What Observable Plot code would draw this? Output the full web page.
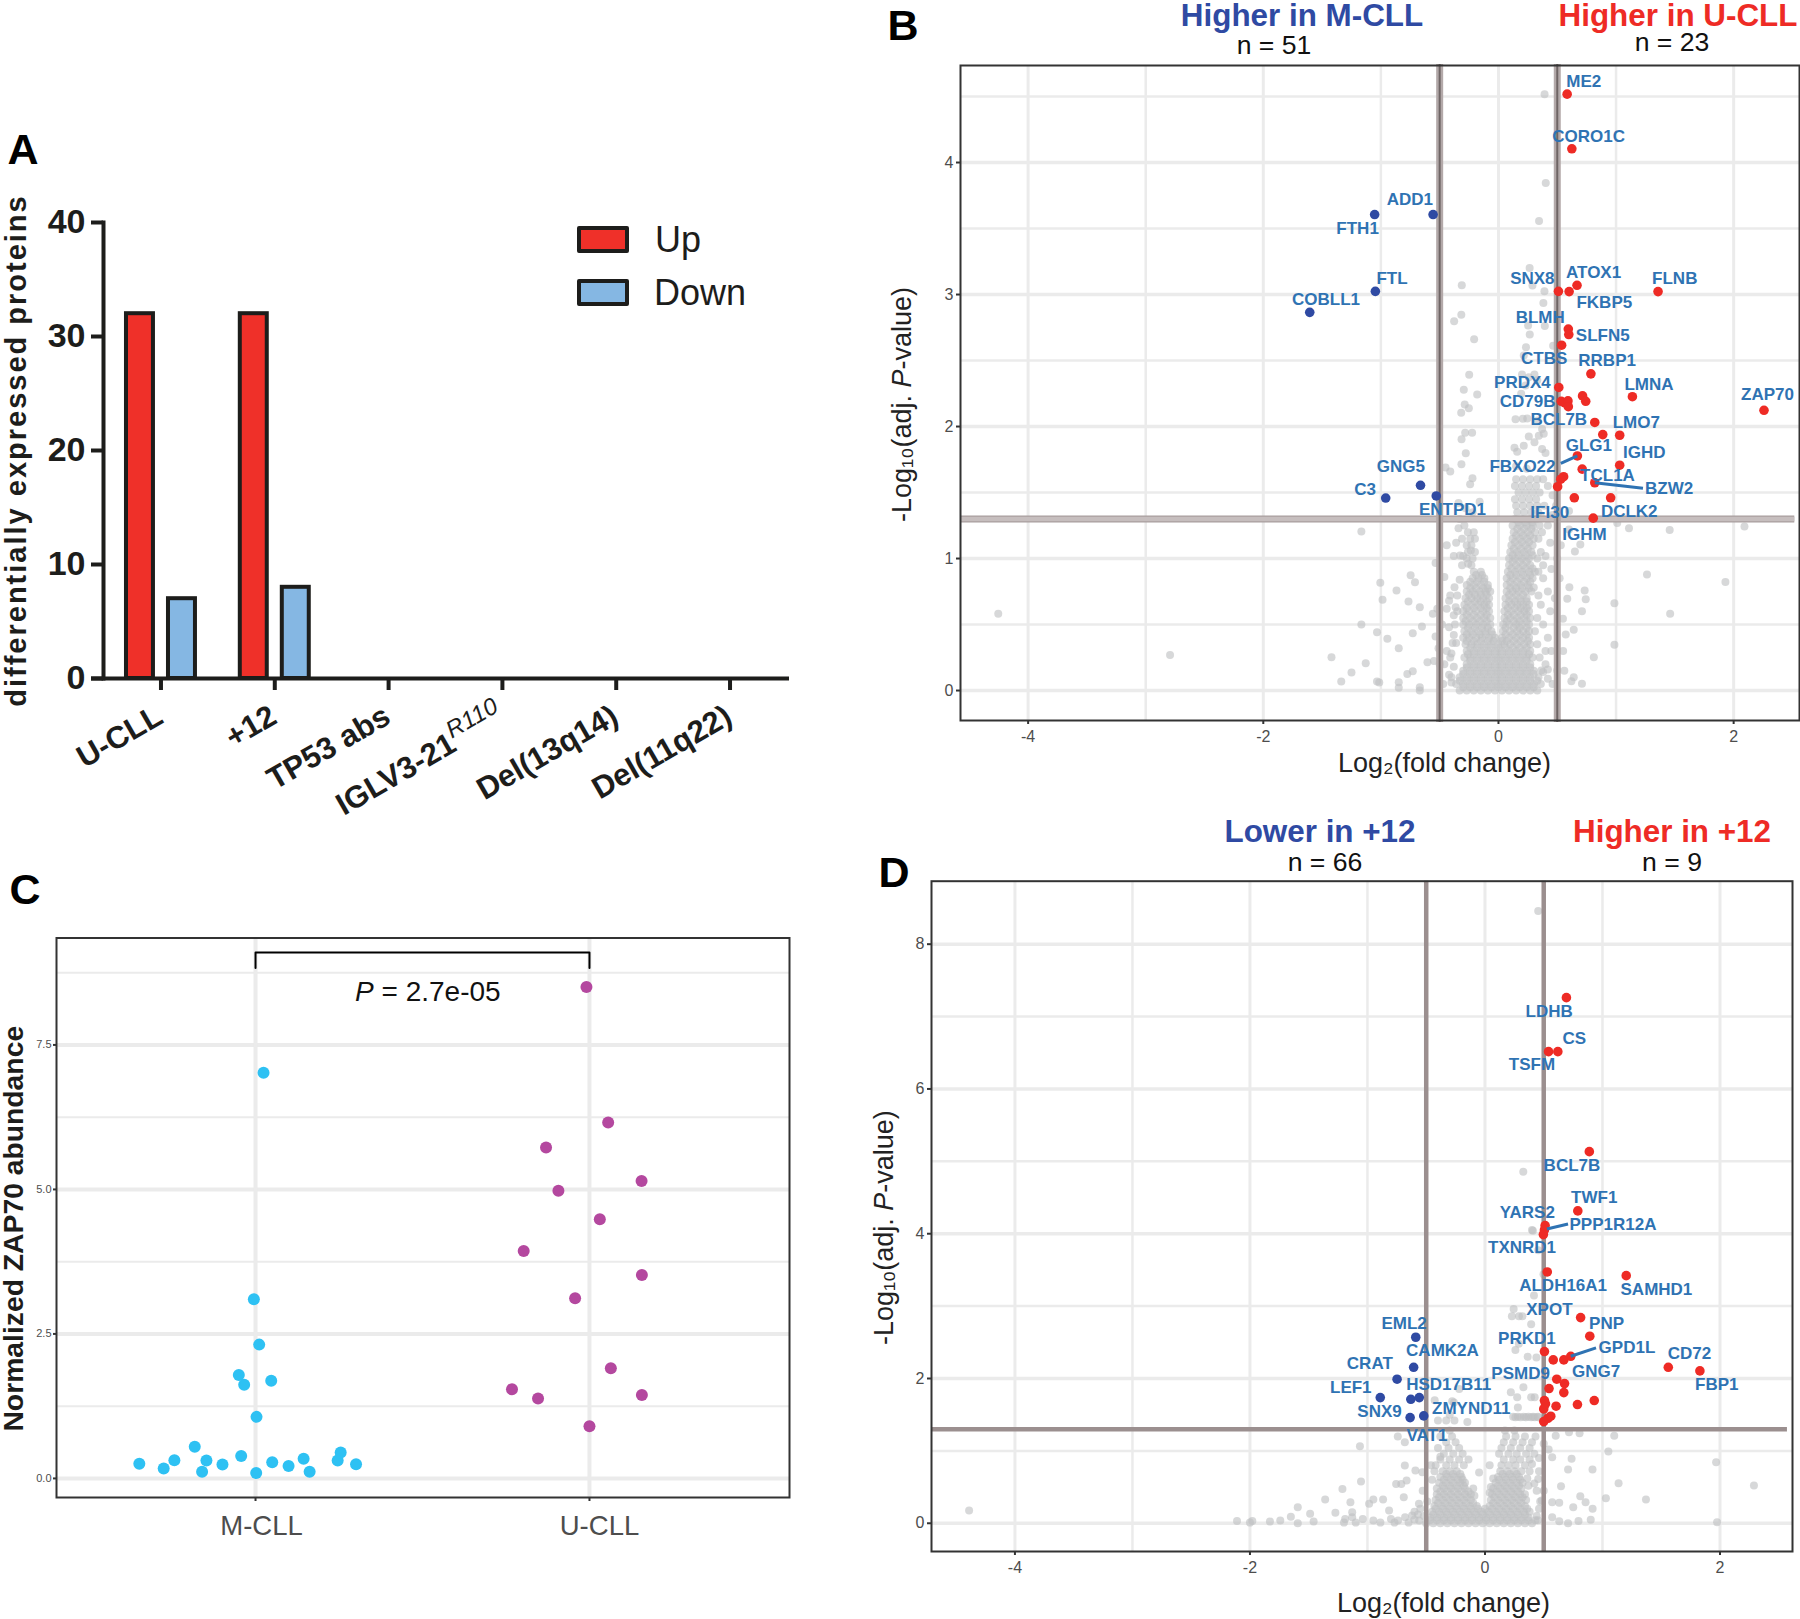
<!DOCTYPE html>
<html><head><meta charset="utf-8">
<style>
html,body{margin:0;padding:0;background:#fff;width:1800px;height:1619px;overflow:hidden;font-family:"Liberation Sans",Arial,sans-serif}
#page{position:relative;width:1800px;height:1619px}
#page svg{position:absolute;overflow:visible}
.t{position:absolute;transform:translate(-50%,-50%);white-space:nowrap;line-height:1}
.sw{position:absolute;box-sizing:border-box;border:4px solid #1d1d1b;border-radius:2px}
</style>
<script src="https://cdn.jsdelivr.net/npm/d3@7"></script>
<script src="https://cdn.jsdelivr.net/npm/@observablehq/plot@0.6"></script>
</head><body><div id="page"></div>
<script>
// ---------- Panel A
const aCategories = ["U-CLL","+12","TP53 abs","IGLV3-21","Del(13q14)","Del(11q22)"];
const aUp = [32,32,0,0,0,0];
const aDown = [7,8,0,0,0,0];
const aTicks = [0,10,20,30,40];

// ---------- Panel C
const cCyan = [[.024,7.02],[-.005,3.10],[.011,2.315],[-.05,1.79],[-.034,1.62],[.047,1.69],[.003,1.065],[-.348,.255],[-.275,.17],[-.243,.316],[-.182,.548],[-.16,.116],[-.147,.309],[-.099,.239],[-.043,.386],[.002,.093],[.05,.278],[.099,.216],[.144,.34],[.162,.116],[.246,.309],[.255,.448],[.301,.247]];
const cPurple = [[.991,8.503],[1.056,6.157],[.87,5.725],[1.156,5.147],[.907,4.977],[1.031,4.483],[.803,3.935],[1.157,3.519],[.957,3.117],[1.064,1.906],[.768,1.543],[1.157,1.443],[.846,1.381],[1,.903]];
const cGroups = ["M-CLL","U-CLL"];
const cGroupLabelAt = [.018,1.03];
const cTicks = [0,2.5,5,7.5];
const cMinor = [1.25,3.75,6.25,8.75];
const cBracket = [[0,8.83],[0,9.1],[1,9.1],[1,8.83]];

// ---------- Panel B
const bRed = [[.584,4.518],[.624,4.104],[.510,3.024],[.601,3.022],[.668,3.070],[1.357,3.022],[.594,2.738],[.598,2.697],[.537,2.616],[.786,2.399],[.513,2.296],[.715,2.232],[.742,2.191],[1.139,2.226],[2.258,2.123],[.534,2.191],[.564,2.180],[.591,2.194],[.594,2.150],[.819,2.031],[.887,1.939],[1.031,1.934],[.671,1.777],[1.031,1.707],[.712,1.677],[.554,1.620],[.530,1.601],[.819,1.574],[.503,1.544],[.645,1.460],[.954,1.460],[.806,1.306]];
const bBlue = [[-.556,3.606],[-1.053,3.606],[-1.047,3.024],[-1.605,2.865],[-.663,1.555],[-.959,1.458],[-.529,1.474]];
const bLabels = [["ME2",.725,4.613],["CORO1C",.766,4.199],["ADD1",-.754,3.720],["FTH1",-1.198,3.503],["FTL",-.905,3.119],["COBLL1",-1.467,2.962],["SNX8",.288,3.119],["ATOX1",.809,3.165],["FLNB",1.499,3.122],["FKBP5",.900,2.940],["BLMH",.355,2.827],["SLFN5",.887,2.686],["CTBS",.389,2.513],["RRBP1",.924,2.497],["PRDX4",.204,2.334],["LMNA",1.280,2.321],["ZAP70",2.288,2.245],["CD79B",.248,2.191],["BCL7B",.513,2.050],["LMO7",1.172,2.031],["GLG1",.769,1.855],["IGHD",1.240,1.804],["FBXO22",.204,1.698],["TCL1A",.927,1.628],["BZW2",1.451,1.533],["GNG5",-.831,1.696],["C3",-1.134,1.520],["ENTPD1",-.391,1.371],["IFI30",.436,1.352],["DCLK2",1.112,1.355],["IGHM",.732,1.182]];
const bLinks = [[.671,1.777,.530,1.720],[.819,1.574,1.229,1.533]];
const bCut = [-.5,.5], bP = 1.3;
const bRowY = [0,.05,.1,.15,.2,.25,.3,.35,.4,.45,.5,.55,.6,.65,.7,.75,.8,.85,.9,.95,1,1.05,1.1,1.15,1.2,1.25,1.3,1.35,1.4,1.45,1.5,1.55,1.6];
const bRowX = [
[-.33,-.27,-.21,-.15,-.09,-.03,.03,.09,.15,.21,.27,.33],
[-.36,-.30,-.24,-.18,-.12,-.06,0,.06,.12,.18,.24,.30,.36],
[-.33,-.27,-.21,-.15,-.09,-.03,.03,.09,.15,.21,.27,.34],
[-.30,-.24,-.18,-.12,-.06,0,.06,.12,.18,.24,.30],
[-.27,-.21,-.15,-.09,-.03,.03,.09,.15,.21,.27],
[-.29,-.24,-.18,-.12,-.06,0,.06,.12,.18,.24,.29],
[-.27,-.21,-.15,-.09,-.03,.03,.09,.15,.21,.27],
[-.28,-.23,-.18,-.12,-.06,0,.05,.10,.16,.22,.27],
[-.30,-.25,-.19,-.14,-.08,-.03,.03,.09,.15,.21,.26],
[-.29,-.23,-.17,-.11,-.06,.04,.10,.16,.21,.26],
[-.30,-.25,-.19,-.13,-.07,.04,.09,.15,.20,.26],
[-.30,-.24,-.18,-.12,-.07,.05,.10,.16,.22,.27],
[-.30,-.25,-.19,-.13,-.08,.05,.11,.17,.22,.26],
[-.29,-.23,-.17,-.12,-.08,.06,.11,.16,.21,.26],
[-.28,-.23,-.18,-.13,-.08,.06,.12,.18,.24],
[-.27,-.22,-.16,-.11,-.07,.07,.12,.17,.23,.28],
[-.27,-.21,-.15,-.09,.07,.13,.19,.25],
[-.22,-.17,-.12,.07,.12,.18,.24,.29],
[-.21,-.15,.08,.14,.20,.26,.31],
[-.23,.09,.15,.21,.27],
[-.27,-.22,.09,.14,.20,.26,.33],
[-.26,-.20,.10,.16,.22,.28],
[-.27,-.23,.11,.17,.23,.29],
[-.24,-.20,.12,.18,.24,.30,.34],
[-.26,-.21,.13,.19,.25,.31],
[.12,.18,.24,.29,.35],
[.14,.20,.26,.32],
[.16,.22,.28,.34],
[.15,.21,.27,.33],
[.14,.20,.26,.32],
[.17,.23,.29,.35],
[.14,.20,.26,.32],
[.15,.21,.27,.33,.38]];
const bRowY2 = [.025,.075,.125,.175,.225,.275,.325,.375,.425,.475,.525,.575,.625,.675,.725,.775,.825,.875,.925,.975,1.025,1.075,1.125,1.175,1.225,1.275];
const bRowX2 = [
[-.30,-.24,-.18,-.12,-.06,0,.06,.12,.18,.24,.30],
[-.33,-.27,-.21,-.15,-.09,-.03,.03,.09,.15,.21,.27,.33],
[-.30,-.24,-.18,-.12,-.06,0,.06,.12,.18,.24,.30],
[-.27,-.21,-.15,-.09,-.03,.03,.09,.15,.21,.27],
[-.24,-.18,-.12,-.06,0,.06,.12,.18,.24],
[-.26,-.21,-.15,-.09,-.03,.03,.09,.15,.21,.26],
[-.24,-.18,-.12,-.06,0,.06,.12,.18,.24],
[-.27,-.21,-.15,-.09,-.04,.03,.07,.13,.19,.25],
[-.27,-.22,-.16,-.11,-.05,.06,.12,.18,.24],
[-.26,-.20,-.14,-.09,.06,.13,.18,.24],
[-.28,-.22,-.16,-.10,.07,.13,.18,.24],
[-.27,-.21,-.15,-.10,.08,.13,.19,.24],
[-.27,-.21,-.15,-.10,.08,.14,.19,.24],
[-.26,-.20,-.15,-.10,.09,.14,.19,.24],
[-.25,-.20,-.15,-.10,.09,.15,.21],
[-.24,-.19,-.13,-.09,.10,.15,.20,.26],
[-.24,-.18,-.12,.10,.16,.22,.27],
[-.19,-.14,.10,.15,.21,.27],
[.11,.17,.23,.29],
[.12,.18,.24],
[.12,.17,.23,.29],
[.13,.19,.25],
[.14,.20,.26],
[.15,.21,.27],
[.16,.22,.28],
[.17,.23,.29]];
const bGreyScatter = [[-4.254,.581],[-2.793,.27],[-1.42,.253],[-1.25,.137],[-1.337,.068],[-1.129,.207],[-1.033,.068],[-1.014,.061],[-.848,.063],[-.848,.021],[-.775,.126],[-.729,.147],[-.669,.025],[-.669,0],[-.604,.215],[-.549,.223],[-1.166,.5],[-1.033,.442],[-.945,.392],[-.848,.321],[-.729,.434],[-.651,.485],[-.535,.409],[-1.005,.816],[-.867,.758],[-.986,.687],[-.765,.674],[-.747,.874],[-.71,.821],[-.669,.631],[-.558,.581],[-.535,.967],[-1.166,1.205],[-.42,.68],[-.364,.631],[-.374,.783],[-.44,.62],[-.38,.57],[-.42,.48],[-.38,.42],[-.40,.28],[-.44,.3],[-.46,.2],[-.42,.12],[-.40,.06],[-.47,.05],[-.327,1.023],[-.38,1.02],[-.258,.96],[-.235,1.06],[-.34,1.23],[-.44,1.1],[-.36,1.12],[-.31,1.15],[.71,.601],[.585,.695],[.733,.758],[.742,.692],[.603,.783],[.986,.662],[1.46,.581],[1.263,.879],[1.93,.823],[.986,.346],[.811,.253],[.71,.051],[.64,.101],[.62,.07],[.548,.543],[.64,.46],[.572,.424],[.50,.152],[.46,.05],[.364,.152],[.42,.09],[.40,.3],[.42,.4],[.38,.5],[.44,.6],[.36,.65],[.42,.75],[.38,.85],[.45,.92],[.40,1.02],[.44,1.12],[.42,1.25],[.46,1.33],[1.456,1.217],[2.092,1.243],[1.11,1.23],[1.01,1.27],[.696,1.106],[.65,1.053],[.60,1.22],[-.312,3.07],[-.316,2.846],[-.377,2.798],[-.207,2.662],[-.249,2.392],[-.295,2.278],[-.181,2.242],[-.287,2.167],[-.252,2.139],[-.317,2.104],[-.283,1.952],[-.224,1.952],[-.314,1.904],[-.278,1.798],[-.315,1.715],[-.45,1.69],[-.41,1.66],[-.221,1.609],[-.241,1.563],[.392,4.518],[.402,3.844],[.345,3.557],[.265,3.2],[.391,3.025],[.289,3.068],[.382,2.935],[.394,2.761],[.252,2.765],[.266,2.697],[.234,2.601],[.465,2.611],[.215,2.538],[.2,2.394],[.306,2.394],[.258,2.374],[.33,2.35],[.23,2.311],[.193,2.248],[.145,2.056],[.207,2.059],[.245,2.06],[.334,2.045],[.371,1.982],[.385,1.945],[.343,1.93],[.258,1.925],[.306,1.88],[.215,1.855],[.136,1.84],[.159,1.809],[.371,1.83],[.40,1.80],[.15,1.7],[.24,1.68],[-.34,1.42],[-.28,1.38],[-.22,1.35],[-.16,1.43],[.49,1.40],[.60,1.36],[-.40,.1],[-.38,.18],[-.41,.25],[-.36,.36],[-.39,.36],[-.37,.5],[-.35,.6],[-.41,.72],[-.35,.72],[-.33,.84],[-.31,.95],[-.3,1.02],[-.29,1.25],[-.33,1.3],[.34,.9],[.36,1.05],[.38,.95],[.33,.55],[.31,.45],[.33,.35],[.35,.25],[.40,.2],[.38,.14],[.42,.16],[.34,.72],[.30,.78],[.37,1.2],[.36,1.32],[.39,1.4],[.46,1.48],[.42,1.55],[-.5,.2],[-.51,.32],[-.48,.5],[-.52,.62],[-.46,.86],[.45,.3],[.48,.7],[.52,.85],[.5,1.0],[.53,1.1],[.55,.3],[.56,.15]];

// ---------- Panel D
const dRed = [[.790,4.315],[.512,4.112],[.506,4.052],[.497,3.988],[.530,3.472],[1.202,3.421],[.814,2.841],[.892,2.584],[.506,2.372],[.581,2.257],[.671,2.257],[.730,2.307],[1.560,2.155],[1.829,2.105],[.611,1.990],[.677,1.930],[.545,1.861],[.671,1.805],[.506,1.695],[.930,1.695],[.787,1.640],[.605,1.617],[.500,1.580],[.515,1.650],[.560,1.479],[.536,1.451],[.500,1.405],[.693,7.261],[.620,6.515],[.541,6.515],[.888,5.134]];
const dBlue = [[-.589,2.570],[-.607,2.155],[-.748,1.990],[-.891,1.736],[-.631,1.713],[-.559,1.736],[-.637,1.460],[-.521,1.483]];
const dLabels = [["LDHB",.546,7.067],["CS",.761,6.699],["TSFM",.400,6.331],["BCL7B",.740,4.945],["TWF1",.930,4.499],["YARS2",.360,4.287],["PPP1R12A",1.089,4.126],["TXNRD1",.315,3.808],["ALDH16A1",.665,3.283],["SAMHD1",1.459,3.228],["XPOT",.548,2.956],["PNP",1.035,2.763],["EML2",-.688,2.763],["PRKD1",.357,2.556],["GPD1L",1.208,2.422],["CAMK2A",-.362,2.386],["CD72",1.740,2.344],["CRAT",-.980,2.201],["PSMD9",.303,2.072],["GNG7",.945,2.095],["FBP1",1.973,1.916],["HSD17B11",-.309,1.911],["LEF1",-1.142,1.870],["ZMYND11",-.117,1.589],["SNX9",-.897,1.543],["VAT1",-.494,1.216]];
const dLinks = [[.730,2.307,.945,2.422],[.527,4.066,.707,4.135]];
const dCut = [-.5,.5], dP = 1.3;
const dRowY = [0,.08,.16,.24,.32,.4,.48,.56,.64,.72,.8,.88,.96,1.04,1.12,1.2,1.28,1.42,1.47];
const dRowX = [
[-.50,-.44,-.38,-.32,-.26,-.20,-.14,-.08,-.02,.04,.10,.16,.22,.28,.34,.40],
[-.47,-.41,-.35,-.29,-.23,-.17,-.11,-.05,.01,.07,.13,.19,.25,.31,.37],
[-.45,-.39,-.33,-.27,-.21,-.15,-.09,-.03,.03,.09,.15,.21,.27,.33,.38],
[-.43,-.37,-.31,-.25,-.19,-.13,-.07,.04,.10,.16,.22,.28,.34],
[-.42,-.36,-.30,-.24,-.18,-.12,.05,.11,.17,.23,.29,.35],
[-.41,-.35,-.29,-.23,-.17,-.12,.06,.12,.18,.24,.30,.34],
[-.41,-.35,-.29,-.23,-.17,.07,.13,.19,.25,.31],
[-.39,-.33,-.27,-.21,-.17,.09,.15,.21,.27,.32],
[-.38,-.32,-.26,-.20,.11,.17,.23,.29],
[-.36,-.30,-.24,.13,.19,.25,.31],
[-.42,-.33,-.26,-.18,.14,.20,.26,.34],
[-.38,-.30,-.22,-.14,.16,.24,.30,.38],
[-.35,-.27,-.19,.12,.20,.27,.35,.42],
[-.40,-.31,-.22,.14,.22,.30,.38],
[-.33,-.25,.16,.24,.32,.40],
[-.38,-.28,.18,.26,.34,.43],
[-.30,.17,.25],
[-.40,-.33,-.26],
[.24,.28,.33,.37,.41,.45]];
const dRowY2 = [.04,.12,.2,.28,.36,.44,.52,.6,.68];
const dRowX2 = [
[-.47,-.41,-.35,-.29,-.23,-.17,-.11,-.05,.01,.07,.13,.19,.25,.31,.37,.43],
[-.44,-.38,-.32,-.26,-.20,-.14,-.08,-.02,.04,.10,.16,.22,.28,.34],
[-.42,-.36,-.30,-.24,-.18,-.12,-.06,0,.06,.12,.18,.24,.30,.36],
[-.40,-.34,-.28,-.22,-.16,-.10,.07,.13,.19,.25,.31],
[-.39,-.33,-.27,-.21,-.15,.08,.14,.20,.26,.32],
[-.38,-.32,-.26,-.20,-.14,.10,.16,.22,.28],
[-.36,-.30,-.24,-.18,.11,.17,.23,.29],
[-.35,-.29,-.23,-.19,.12,.18,.24,.30],
[-.33,-.27,-.21,.15,.21,.27]];
const dGreyScatter = [[.453,8.458],[.326,4.857],[.40,4.05],[.408,4.04],[.453,3.77],[.498,3.44],[.417,3.145],[.244,2.96],[.229,2.86],[.289,2.86],[.319,2.86],[.393,2.75],[.259,2.395],[.288,2.48],[.363,2.30],[.438,2.29],[.327,1.88],[.22,1.81],[.274,1.74],[.393,1.74],[.423,1.74],[.28,1.6],[.348,1.465],[.393,1.465],[.303,1.465],[.423,1.465],[.259,1.465],[.452,1.465],[-.219,1.856],[-.264,1.67],[-.428,1.70],[-.279,1.686],[-.15,1.4],[-.30,1.5],[-1.064,1.064],[-.742,1.198],[-.682,1.12],[1.1,1.21],[1.05,.99],[1.967,.843],[2.289,.521],[.715,1.257],[.805,1.244],[.602,1.21],[.542,1.02],[.572,.912],[.737,.89],[.707,.742],[.915,.742],[1.137,.553],[1.029,.346],[1.37,.328],[.453,.613],[.647,.512],[.483,.314],[.572,.291],[.632,.282],[.811,.374],[.856,.291],[.751,.222],[.916,.199],[.572,.084],[.632,.028],[.707,0],[.796,.03],[.9,.05],[1.975,.015],[-.682,.797],[-.592,.728],[-.533,.705],[-1.055,.576],[-1.213,.475],[-.756,.544],[-.712,.544],[-.667,.59],[-1.36,.328],[-1.145,.291],[-.95,.328],[-.867,.328],[-.986,.268],[-.691,.36],[-.562,.268],[-1.593,.222],[-1.488,.13],[-1.273,.144],[-1.13,.153],[-.816,.176],[-1.652,.09],[-1.98,.03],[-1.83,.024],[-1.742,.037],[-1.593,0],[-1.458,.024],[-1.19,.06],[-1.13,.084],[-1.04,.06],[-.95,.037],[-.8,.06],[-.74,.037],[-.68,.084],[-.62,.107],[-.56,.037],[-1.2,.01],[-1.1,.01],[-.89,.01],[-.77,.01],[-.65,.01],[-.6,.16],[-.57,.12],[.46,.2],[.44,.1],[.45,.04],[.5,.45],[.46,.72],[.42,.55],[.46,.9],[.5,1.1],[-4.39,.176],[-2.11,.03],[-2.0,.01],[-.45,.6],[-.43,.72],[-.46,.8],[-.38,.92],[.07,.62],[.05,.5],[.36,.62],[.38,.72],[.40,.82],[.47,.3],[.44,.45],[.37,.52],[-.53,.45],[-.55,.2],[-.52,.1],[-.6,.05],[-.49,.3],[-.1,.48],[-.09,.38],[.04,.42],[-.05,.7],[.04,.8]];

const FONT = "'Liberation Sans',Arial,sans-serif";
const RED = "#ee2b25", BLUE = "#2f4aa3", LABEL = "#2f73b3", GREY = "#bfc0c2", GRID = "#ebebeb", INK = "#1d1d1b", FRAME = "#333333", TICK = "#4d4d4d";
const page = document.getElementById("page");
function place(svg, left, top){ svg.style.left = left+"px"; svg.style.top = top+"px"; page.appendChild(svg); return svg; }
function rich(svg, plain, html){ d3.select(svg).selectAll("text").filter(function(){return this.textContent===plain;}).html(html); }
function txt(s, x, y, size, color, weight){ const d=document.createElement("div"); d.className="t"; d.textContent=s; d.style.cssText=`left:${x}px;top:${y}px;font-size:${size}px;color:${color};font-weight:${weight||"normal"}`; page.appendChild(d); }
const base = {fontFamily:FONT, background:"transparent", overflow:"visible"};
const flat = (ys,xs)=>ys.flatMap((y,i)=>xs[i].map(x=>[x,y]));

// ---------- A
{
  const rows = aCategories.map((c,i)=>({c,up:aUp[i],down:aDown[i]}));
  const nz = k=>rows.filter(r=>r[k]>0);
  const svg = Plot.plot({
    width:800,height:660,marginLeft:103,marginRight:11,marginTop:52,marginBottom:152,
    style:base,
    x:{type:"band",domain:aCategories,range:[101,789],paddingInner:.763,paddingOuter:.404,round:false,label:null},
    y:{domain:[0,40],label:null},
    marks:[
      Plot.barY(nz("up"),{x:"c",y:"up",fill:"#ef3029",stroke:INK,strokeWidth:4,dx:-21}),
      Plot.barY(nz("down"),{x:"c",y:"down",fill:"#85b7e3",stroke:INK,strokeWidth:4,dx:21}),
      Plot.frame({anchor:"left",stroke:INK,strokeWidth:4}),
      Plot.ruleY([0],{stroke:INK,strokeWidth:4,insetLeft:-12}),
      Plot.axisY({ticks:aTicks,tickSize:12,tickPadding:6,label:null,fontSize:34,fontWeight:"bold",stroke:INK,color:INK,strokeWidth:4}),
      Plot.axisX({tickSize:12,tickFormat:()=>"",label:null,stroke:INK,strokeWidth:4}),
      Plot.text(aCategories,{x:d=>d,y:()=>0,text:d=>d,rotate:-30,textAnchor:"end",dx:-1,dy:35,fontSize:31,fontWeight:"bold",fill:INK}),
      Plot.text(["differentially expressed proteins"],{frameAnchor:"left",y:()=>20,textAnchor:"middle",lineAnchor:"middle",dx:-87,rotate:-90,fontSize:29,fontWeight:"bold",fill:INK})
    ]
  });
  place(svg,0,170);
  rich(svg,"IGLV3-21",'IGLV3-21<tspan dy="-13" font-size="24" font-weight="normal" font-style="italic">R110</tspan>');
  d3.select(svg).selectAll("text").filter(function(){return this.textContent.startsWith("differentially");}).style("letter-spacing","2px");
  const sw=(top,c)=>{const d=document.createElement("div");d.className="sw";d.style.cssText=`left:577px;top:${top}px;width:52px;height:27px;background:${c}`;page.appendChild(d);};
  sw(226,"#ef3029"); sw(279,"#85b7e3");
  txt("Up",678,240,36,INK); txt("Down",700,293,36,INK);
  txt("A",23,149,43,"#000","bold");
}

// ---------- C
{
  const svg = Plot.plot({
    width:800,height:700,marginLeft:56,marginRight:11,marginTop:37.5,marginBottom:103,
    style:base,
    x:{domain:[-.596,1.599],label:null},
    y:{domain:[-.33,9.35],label:null},
    marks:[
      Plot.ruleY(cMinor,{stroke:GRID,strokeWidth:2}),
      Plot.ruleY(cTicks,{stroke:GRID,strokeWidth:4}),
      Plot.ruleX([0,1],{stroke:GRID,strokeWidth:4}),
      Plot.frame({stroke:FRAME,strokeWidth:2}),
      Plot.axisY({ticks:cTicks,tickFormat:d=>d.toFixed(1),tickSize:3,tickPadding:2,label:null,fontSize:11,color:TICK,stroke:FRAME,strokeWidth:2}),
      Plot.axisX({ticks:[0,1],tickFormat:()=>"",tickSize:4,label:null,stroke:FRAME,strokeWidth:2}),
      Plot.text(cGroups,{x:(d,i)=>cGroupLabelAt[i],frameAnchor:"bottom",lineAnchor:"middle",dy:29,fontSize:27.5,fill:TICK}),
      Plot.dot(cCyan,{x:d=>d[0],y:d=>d[1],r:6,fill:"#2ec1f3"}),
      Plot.dot(cPurple,{x:d=>d[0],y:d=>d[1],r:6,fill:"#b4489f"}),
      Plot.line(cBracket,{x:d=>d[0],y:d=>d[1],stroke:"#000",strokeWidth:2,curve:"linear"}),
      Plot.text(["P = 2.7e-05"],{x:()=>.516,y:()=>8.42,fontSize:28,fill:"#111"}),
      Plot.text(["Normalized ZAP70 abundance"],{frameAnchor:"left",y:()=>4.32,textAnchor:"middle",lineAnchor:"middle",dx:-43,rotate:-90,fontSize:28.3,fontWeight:"bold",fill:INK})
    ]
  });
  place(svg,0,900);
  rich(svg,"P = 2.7e-05",'<tspan font-style="italic">P</tspan> = 2.7e-05');
  txt("C",25,889,43,"#000","bold");
}

// ---------- volcano helper
function volcano(o){
  const rep = d=>d[0];
  const svg = Plot.plot({
    width:o.width,height:o.height,marginLeft:o.ml,marginRight:o.mr,marginTop:o.mt,marginBottom:o.mb,
    style:base,
    x:{domain:o.xd,label:null},
    y:{domain:o.yd,label:null},
    marks:[
      Plot.ruleX([-3,-1,1],{stroke:GRID,strokeWidth:2.5}),
      Plot.ruleX([-4,-2,0,2],{stroke:GRID,strokeWidth:3}),
      Plot.ruleY(o.yMinor,{stroke:GRID,strokeWidth:2.5}),
      Plot.ruleY(o.yMajor,{stroke:GRID,strokeWidth:3.5}),
      Plot.dot(o.grey,{x:rep,y:d=>d[1],r:4,fill:GREY,fillOpacity:.62}),
      ...o.lines,
      Plot.frame({stroke:FRAME,strokeWidth:2}),
      Plot.axisY({ticks:o.yMajor,tickSize:4,tickPadding:3,label:null,fontSize:16,color:TICK,stroke:FRAME,strokeWidth:2,tickFormat:d=>String(d)}),
      Plot.axisX({ticks:[-4,-2,0,2],tickSize:4,tickPadding:6,label:null,fontSize:16,color:TICK,stroke:FRAME,strokeWidth:2,tickFormat:d=>String(d)}),
      Plot.dot(o.blue,{x:rep,y:d=>d[1],r:4.8,fill:BLUE}),
      Plot.dot(o.red,{x:rep,y:d=>d[1],r:4.8,fill:RED}),
      Plot.link(o.links,{x1:d=>d[0],y1:d=>d[1],x2:d=>d[2],y2:d=>d[3],stroke:LABEL,strokeWidth:3}),
      Plot.text(o.labels,{x:d=>d[1],y:d=>d[2],text:d=>d[0],fontSize:17,fontWeight:"bold",fill:LABEL}),
      Plot.text(["Log\u2082(fold change)"],{frameAnchor:"bottom",lineAnchor:"middle",x:()=>o.xLabelAt,dy:o.xLabelDy,fontSize:27,fill:"#222"}),
      Plot.text(["-Log\u2081\u2080(adj. P-value)"],{frameAnchor:"left",textAnchor:"middle",lineAnchor:"middle",y:()=>o.yLabelAt,dx:o.yLabelDx,rotate:-90,fontSize:27,fill:"#222"})
    ]
  });
  place(svg,o.left,o.top);
  rich(svg,"-Log\u2081\u2080(adj. P-value)",'-Log\u2081\u2080(adj. <tspan font-style="italic">P</tspan>-value)');
}

// ---------- B
volcano({
  left:880,top:0,width:920,height:800,ml:80,mr:1,mt:65,mb:80,
  xd:[-4.575,2.56],yd:[-.227,4.735],
  yMajor:[0,1,2,3,4],yMinor:[.5,1.5,2.5,3.5,4.5],
  grey:[...flat(bRowY,bRowX),...flat(bRowY2,bRowX2),...bGreyScatter],red:bRed,blue:bBlue,labels:bLabels,links:bLinks,
  lines:[
    Plot.ruleY([bP],{x1:-4.575,x2:2.52,stroke:"#a89e9e",strokeWidth:7}),
    Plot.ruleY([bP],{x1:-4.575,x2:2.52,stroke:"#c6bebe",strokeWidth:4.5}),
    Plot.ruleX(bCut,{stroke:"#b3a9a9",strokeWidth:7,insetBottom:-2,insetTop:-1}),
    Plot.ruleX(bCut,{stroke:"#6f6565",strokeWidth:2,insetBottom:-2,insetTop:-1})
  ],
  xLabelAt:-.459,xLabelDy:43,yLabelAt:2.167,yLabelDx:-58
});
txt("Higher in M-CLL",1302,16,31.4,BLUE,"bold");
txt("n = 51",1274,45,26.6,"#111");
txt("Higher in U-CLL",1678,16,31.4,RED,"bold");
txt("n = 23",1672,42,26.6,"#111");
txt("B",903,25,43,"#000","bold");

// ---------- D
volcano({
  left:850,top:860,width:950,height:759,ml:81,mr:8,mt:20.7,mb:68,
  xd:[-4.71,2.617],yd:[-.39,8.87],
  yMajor:[0,2,4,6,8],yMinor:[1,3,5,7],
  grey:[...flat(dRowY,dRowX),...flat(dRowY2,dRowX2),...dGreyScatter],red:dRed,blue:dBlue,labels:dLabels,links:dLinks,
  lines:[
    Plot.ruleY([dP],{x1:-4.71,x2:2.574,stroke:"#9b8f8f",strokeWidth:4.5}),
    Plot.ruleX(dCut,{stroke:"#9b8f8f",strokeWidth:4.5})
  ],
  xLabelAt:-.353,xLabelDy:52,yLabelAt:4.084,yLabelDx:-47
});
txt("Lower in +12",1320,832,31.4,BLUE,"bold");
txt("n = 66",1325,862,26.6,"#111");
txt("Higher in +12",1672,832,31.4,RED,"bold");
txt("n = 9",1672,862,26.6,"#111");
txt("D",894,872,43,"#000","bold");
</script></body></html>
